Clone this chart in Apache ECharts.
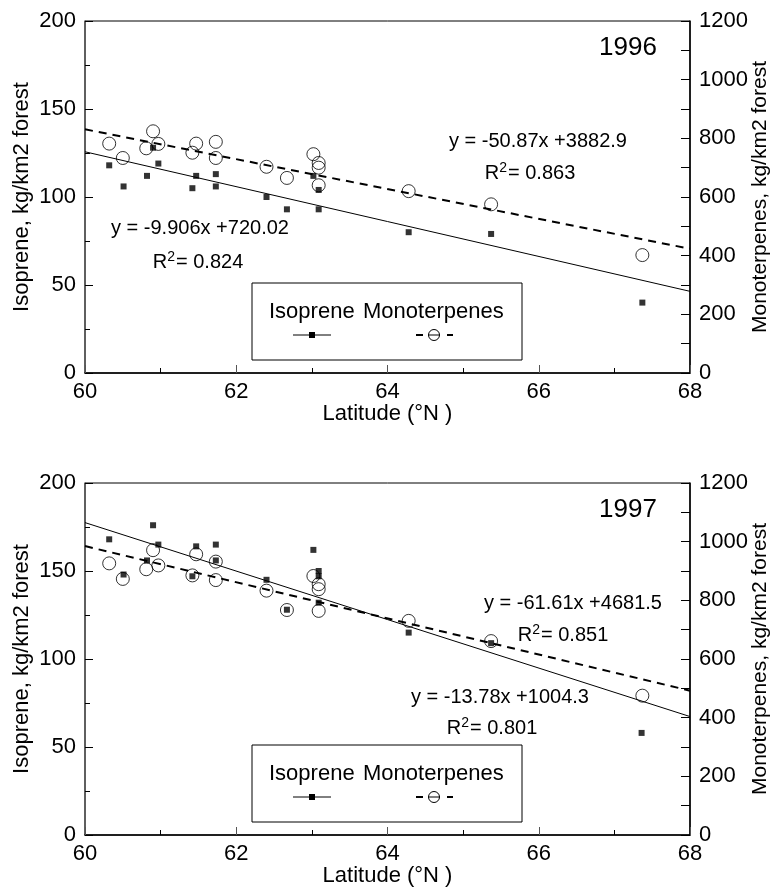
<!DOCTYPE html>
<html><head><meta charset="utf-8">
<script src="https://cdn.jsdelivr.net/npm/echarts@6/dist/echarts.min.js"></script>
<style>html,body{margin:0;padding:0;background:#fff}#c{width:774px;height:895px}</style>
</head><body><div id="c"></div>
<script>
// ---- 1996 ----
const latIso96 = [60.32,60.51,60.82,60.90,60.97,61.42,61.47,61.73,61.73,62.40,62.67,63.02,63.09,63.09,64.28,65.37,67.37];
const iso96    = [118,106,112,128,119,105,112,113,106,100,93,112,104,93,80,79,40];
const latMono96 = [60.32,60.50,60.81,60.90,60.97,61.42,61.47,61.73,61.73,62.40,62.67,63.02,63.09,63.09,63.09,64.28,65.37,67.37];
const mono96    = [782,733,766,824,781,751,782,788,733,703,665,746,716,700,640,620,575,402];
const fitIso96  = [[60,125.7],[68,46.4]];
const fitMono96 = [[60,830.7],[68,423.7]];
// ---- 1997 ----
const latIso97 = [60.32,60.51,60.82,60.90,60.97,61.42,61.47,61.73,61.73,62.40,62.67,63.02,63.09,63.09,63.09,64.28,65.37,67.36];
const iso97    = [168,148,156,176,165,147,164,165,156,145,128,162,150,147,132,115,109,58];
const latMono97 = [60.32,60.50,60.81,60.90,60.97,61.42,61.47,61.73,61.73,62.40,62.67,63.02,63.09,63.09,63.09,64.28,65.37,67.37];
const mono97    = [926,873,906,971,919,885,957,932,869,833,767,883,855,838,764,730,661,475];
const fitIso97  = [[60,177.5],[68,67.3]];
const fitMono97 = [[60,984.9],[68,492.0]];

const years = ['1996','1997'];
const eqIso = ['y = -9.906x +720.02','y = -13.78x +1004.3'];
const r2Iso = ['0.824','0.801'];
const eqMono = ['y = -50.87x +3882.9','y = -61.61x +4681.5'];
const r2Mono = ['0.863','0.851'];

const FONT = 'Liberation Sans, Arial, sans-serif';
const zip = (a,b) => a.map((v,i)=>[v,b[i]]);
const plain = v => String(v);

const grids = [
  {left:85, top:21, width:605, height:352, show:true, borderColor:'#000', borderWidth:1, backgroundColor:'transparent', outerBoundsMode:'none', containLabel:false},
  {left:85, top:483, width:605, height:352, show:true, borderColor:'#000', borderWidth:1, backgroundColor:'transparent', outerBoundsMode:'none', containLabel:false}
];
const xAxes = [], yAxes = [], series = [];
const lbl = {color:'#000', fontFamily:FONT, fontSize:22, formatter:plain};
[0,1].forEach(g=>{
  xAxes.push({type:'value', gridIndex:g, min:60, max:68, interval:2,
    name:'Latitude (°N )', nameLocation:'middle', nameGap:30, nameMoveOverlap:false,
    nameTextStyle:{color:'#000', fontFamily:FONT, fontSize:22},
    axisLine:{show:true, lineStyle:{color:'#000', width:1.5}},
    axisTick:{show:true, inside:true, length:8, lineStyle:{color:'#555'}},
    minorTick:{show:true, splitNumber:2, length:5, lineStyle:{color:'#000'}},
    axisLabel:Object.assign({margin:8}, lbl),
    splitLine:{show:false}});
  yAxes.push({type:'value', gridIndex:g, min:0, max:200, interval:50, position:'left',
    name:'Isoprene, kg/km2 forest', nameLocation:'middle', nameGap:52, nameRotate:90, nameMoveOverlap:false,
    nameTextStyle:{color:'#000', fontFamily:FONT, fontSize:22},
    axisLine:{show:true, lineStyle:{color:'#555', width:1.5}},
    axisTick:{show:true, inside:true, length:8, lineStyle:{color:'#000'}},
    minorTick:{show:true, splitNumber:2, length:5, lineStyle:{color:'#000'}},
    axisLabel:Object.assign({margin:9}, lbl),
    splitLine:{show:false}});
  yAxes.push({type:'value', gridIndex:g, min:0, max:1200, interval:200, position:'right',
    name:'Monoterpenes, kg/km2 forest', nameLocation:'middle', nameGap:60, nameRotate:90, nameMoveOverlap:false,
    nameTextStyle:{color:'#000', fontFamily:FONT, fontSize:21},
    axisLine:{show:true, lineStyle:{color:'#000', width:1.5}},
    axisTick:{show:true, inside:true, length:9, lineStyle:{color:'#000'}},
    minorTick:{show:true, splitNumber:2, length:9, lineStyle:{color:'#000'}},
    axisLabel:Object.assign({margin:9}, lbl),
    splitLine:{show:false}});
});

const sets = [
  {latIso:latIso96, iso:iso96, latMono:latMono96, mono:mono96, fi:fitIso96, fm:fitMono96},
  {latIso:latIso97, iso:iso97, latMono:latMono97, mono:mono97, fi:fitIso97, fm:fitMono97}
];
sets.forEach((s,g)=>{
  series.push({type:'line', xAxisIndex:g, yAxisIndex:2*g, data:s.fi, symbol:'none', silent:true,
    lineStyle:{color:'#000', width:1}, z:2});
  series.push({type:'line', xAxisIndex:g, yAxisIndex:2*g+1, data:s.fm, symbol:'none', silent:true,
    lineStyle:{color:'#000', width:2, type:[8,6]}, z:2});
  series.push({type:'scatter', xAxisIndex:g, yAxisIndex:2*g+1, data:zip(s.latMono,s.mono),
    symbol:'circle', symbolSize:13, itemStyle:{color:'rgba(0,0,0,0)', borderColor:'#000', borderWidth:1}, z:3});
  series.push({type:'scatter', xAxisIndex:g, yAxisIndex:2*g, data:zip(s.latIso,s.iso),
    symbol:'rect', symbolSize:6, itemStyle:{color:'#000'}, z:4});
});

const rich = {sup:{fontSize:14, verticalAlign:'top', padding:[0,1,10,0], fontFamily:FONT, color:'#000'}};
const graphics = [];
function txt(x,y,t,size){
  graphics.push({type:'text', x:x, y:y, style:{text:t, fill:'#000', font: size+'px '+FONT, textAlign:'center', textVerticalAlign:'middle', rich:rich}});
}
const off = [0, 462];
[0,1].forEach(g=>{
  const o = off[g];
  txt(628, 48+o, years[g], 26);
  graphics.push({type:'rect', shape:{x:252, y:283+o, width:270, height:77}, style:{fill:'#fff', stroke:'#000', lineWidth:1}, z:10});
  graphics.push({type:'text', x:269, y:312+o, style:{text:'Isoprene', fill:'#000', font:'22px '+FONT, textVerticalAlign:'middle'}, z:11});
  graphics.push({type:'text', x:363, y:312+o, style:{text:'Monoterpenes', fill:'#000', font:'22px '+FONT, textVerticalAlign:'middle'}, z:11});
  graphics.push({type:'line', shape:{x1:293, y1:335+o, x2:331, y2:335+o}, style:{stroke:'#000', lineWidth:1}, z:11});
  graphics.push({type:'rect', shape:{x:309, y:332+o, width:6, height:6}, style:{fill:'#000'}, z:11});
  graphics.push({type:'line', shape:{x1:416, y1:335+o, x2:423, y2:335+o}, style:{stroke:'#000', lineWidth:2}, z:11});
  graphics.push({type:'line', shape:{x1:428, y1:335+o, x2:440, y2:335+o}, style:{stroke:'#000', lineWidth:1}, z:11});
  graphics.push({type:'circle', shape:{cx:434, cy:335+o, r:5.5}, style:{fill:'none', stroke:'#000', lineWidth:1}, z:11});
  graphics.push({type:'line', shape:{x1:447, y1:335+o, x2:453, y2:335+o}, style:{stroke:'#000', lineWidth:2}, z:11});
});
txt(538, 141, eqMono[0], 20); txt(530, 173, 'R{sup|2}= '+r2Mono[0], 20);
txt(200, 228, eqIso[0], 20);  txt(198, 262, 'R{sup|2}= '+r2Iso[0], 20);
txt(573, 603, eqMono[1], 20); txt(563, 635, 'R{sup|2}= '+r2Mono[1], 20);
txt(500, 697, eqIso[1], 20);  txt(492, 728, 'R{sup|2}= '+r2Iso[1], 20);

const chart = echarts.init(document.getElementById('c'), null, {renderer:'canvas'});
chart.setOption({
  animation:false, backgroundColor:'#fff',
  textStyle:{fontFamily:FONT},
  grid:grids, xAxis:xAxes, yAxis:yAxes, series:series, graphic:graphics
});
</script></body></html>
